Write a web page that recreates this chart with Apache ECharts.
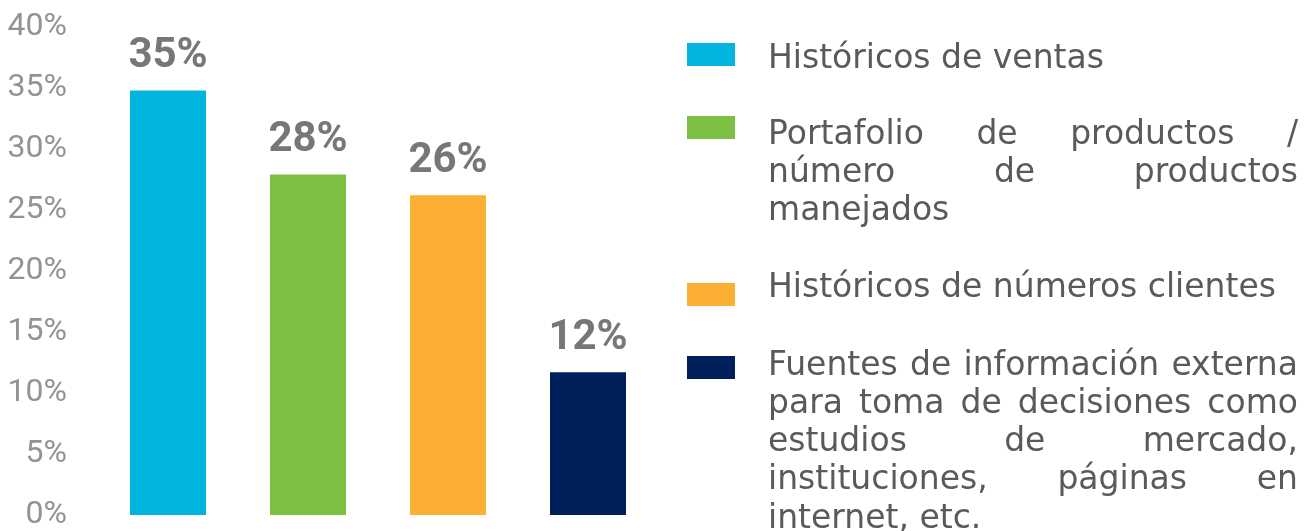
<!DOCTYPE html>
<html>
<head>
<meta charset="utf-8">
<script src="https://cdn.jsdelivr.net/npm/echarts@6/dist/echarts.min.js"></script>
<style>
  html, body { margin: 0; padding: 0; background: #fff; }
  #chart { width: 1313px; height: 531px; }
</style>
</head>
<body>
<div id="chart"></div>
<script>
// datos
const categories = [
  'Históricos de ventas',
  'Portafolio de productos / número de productos manejados',
  'Históricos de números clientes',
  'Fuentes de información externa para toma de decisiones como estudios de mercado, instituciones, páginas en internet, etc.'
];
const values = [34.8, 27.9, 26.2, 11.7];
const colors = ['#00b5df', '#7cc143', '#fbb034', '#00205c'];
const yMin = 0;
const yMax = 40;
const yStep = 5;

// cortes de línea de la leyenda tal como aparecen
const legendLines = [
  ['Históricos de ventas'],
  ['Portafolio de productos /', 'número de productos', 'manejados'],
  ['Históricos de números clientes'],
  ['Fuentes de información externa', 'para toma de decisiones como', 'estudios de mercado,', 'instituciones, páginas en', 'internet, etc.']
];

// layout de la leyenda
const LEG_X = 768, LEG_W = 530, LINE_H = 38.3;
const legFirstBase = [69, 145, 298, 376];
const legSwatchTop = [43, 116, 283, 356];
const LEG_FONT = { size: 33, family: '"DejaVu Sans"', weight: 'normal', color: '#5a5a5a' };

const ctx = document.createElement('canvas').getContext('2d');
ctx.font = `${LEG_FONT.weight} ${LEG_FONT.size}px ${LEG_FONT.family}`;

function textEl(str, x, baseY) {
  return {
    type: 'text',
    x: x,
    y: baseY - 10,
    silent: true,
    style: {
      text: str,
      fontSize: LEG_FONT.size,
      fontFamily: LEG_FONT.family,
      fontWeight: LEG_FONT.weight,
      fill: LEG_FONT.color,
      align: 'left',
      verticalAlign: 'middle',
      textAlign: 'left',
      textVerticalAlign: 'middle'
    }
  };
}

const graphics = [];
legendLines.forEach((lines, i) => {
  graphics.push({
    type: 'rect',
    silent: true,
    shape: { x: 687, y: legSwatchTop[i], width: 48, height: 23 },
    style: { fill: colors[i] }
  });
  lines.forEach((line, j) => {
    const base = legFirstBase[i] + j * LINE_H;
    const words = line.split(' ');
    const justify = j < lines.length - 1 && words.length > 1;
    if (!justify) {
      graphics.push(textEl(line, LEG_X, base));
      return;
    }
    // texto justificado: repartir el espacio sobrante entre palabras
    const widths = words.map(w => ctx.measureText(w).width);
    const total = widths.reduce((a, b) => a + b, 0);
    const gap = (LEG_W - total) / (words.length - 1);
    let x = LEG_X;
    words.forEach((w, k) => {
      graphics.push(textEl(w, x, base));
      x += widths[k] + gap;
    });
  });
});

const chart = echarts.init(document.getElementById('chart'));
chart.setOption({
  animation: false,
  grid: { left: 98, width: 560, top: 27, bottom: 13 },
  xAxis: {
    type: 'category',
    data: categories,
    axisLine: { show: false },
    axisTick: { show: false },
    axisLabel: { show: false }
  },
  yAxis: {
    type: 'value',
    min: yMin,
    max: yMax,
    interval: yStep,
    splitLine: { show: false },
    axisLine: { show: false },
    axisTick: { show: false },
    axisLabel: {
      formatter: '{value}%',
      margin: 31,
      fontSize: 32,
      fontFamily: 'Roboto',
      fontWeight: 'normal',
      color: '#939393'
    }
  },
  series: [{
    type: 'bar',
    barWidth: 76,
    data: values.map((v, i) => ({ value: v, itemStyle: { color: colors[i] } })),
    label: {
      show: true,
      position: 'top',
      distance: 13,
      formatter: p => Math.round(p.value) + '%',
      fontSize: 42,
      fontWeight: 'bold',
      fontFamily: 'Roboto',
      color: '#777777'
    }
  }],
  graphic: graphics
});
</script>
</body>
</html>
